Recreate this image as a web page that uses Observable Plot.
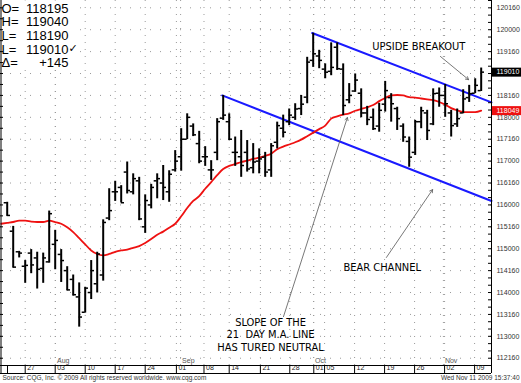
<!DOCTYPE html>
<html><head><meta charset="utf-8">
<script src="https://cdn.jsdelivr.net/npm/d3@7"></script>
<script src="https://cdn.jsdelivr.net/npm/@observablehq/plot@0.6"></script>
<style>
html,body{margin:0;padding:0;background:#fff;}
g[font-family*="Condensed"] text{font-stretch:condensed;}
</style></head><body><div id="chart"></div>
<script>
// Daily bars, trading-day index 0 = Jul 22 2009 ... 79 = Nov 11 2009 (prices in points)
const highs = [116.06,115.51,114.94,114.73,114.98,114.92,114.90,115.86,115.42,114.98,
114.59,114.40,114.22,114.12,114.73,114.92,115.66,116.37,116.54,116.44,
116.98,116.71,116.63,116.23,116.47,116.71,116.90,116.78,117.24,117.74,
118.08,117.85,117.68,117.33,117.01,117.97,118.50,118.08,117.55,117.70,
117.47,117.40,117.28,117.20,117.40,117.89,118.05,118.19,118.31,118.50,
119.37,119.92,119.53,119.22,119.70,119.70,119.22,118.77,118.99,118.65,
118.25,118.19,118.32,118.82,118.54,118.23,117.85,117.55,117.93,118.23,
118.16,118.65,118.67,118.75,118.16,118.19,118.63,118.73,118.88,119.125];
const lows = [115.74,114.56,114.79,114.21,114.43,114.08,114.21,114.67,114.52,114.23,
114.04,113.92,113.21,113.53,113.84,113.99,114.26,115.64,116.08,116.05,
116.25,116.23,115.64,115.35,115.91,116.14,116.10,116.06,116.75,116.77,
117.49,117.56,116.94,116.88,116.56,117.01,117.93,117.47,116.88,116.63,
116.75,116.71,116.71,116.63,116.63,117.28,117.53,117.81,117.93,118.04,
118.31,119.14,119.11,118.88,118.95,119.07,118.04,118.31,118.57,117.99,
117.81,117.70,117.66,118.12,117.89,117.70,117.43,116.86,117.13,117.74,
117.47,117.81,118.23,118.00,117.55,117.77,118.08,118.34,118.54,118.59];
const opens = [116.05,115.40,114.93,114.60,114.90,114.79,114.55,114.70,115.10,114.87,
114.50,114.30,113.90,113.55,114.00,114.20,114.40,115.70,116.30,116.40,
116.75,116.30,116.55,115.50,116.00,116.55,116.50,116.30,116.80,117.10,
117.50,117.80,117.40,117.10,116.80,117.20,117.98,117.90,117.20,117.10,
117.20,116.85,117.00,117.09,116.80,117.43,117.75,117.90,118.00,118.20,
118.46,119.30,119.40,119.10,119.05,119.60,119.10,118.40,118.60,118.55,
118.10,118.00,117.80,118.30,118.45,118.20,117.80,117.45,117.20,117.90,
118.10,117.85,118.55,118.50,118.10,117.85,118.10,118.45,118.55,118.61];
const closes = [115.76,114.58,114.90,114.62,114.63,114.53,114.79,115.80,115.19,114.73,
114.06,113.95,113.44,114.10,114.50,114.88,115.60,115.87,116.30,116.05,
116.33,116.60,115.68,116.10,116.40,116.60,116.40,116.70,117.00,117.50,
118.00,117.60,117.00,117.10,116.80,117.90,118.05,117.50,117.20,116.90,
116.82,116.98,117.05,116.75,117.35,117.81,117.66,118.05,118.19,118.30,
119.26,119.45,119.30,119.03,119.14,119.11,118.27,118.50,118.85,118.10,
117.95,117.74,118.16,118.61,118.31,117.97,117.55,117.09,117.90,118.15,
117.70,118.54,118.50,118.31,117.81,117.97,118.42,118.54,118.73,119.03125];
// 21-day moving average as drawn (first value = Jul 21, index -1; rest align with bars)
const ma21 = [115.57,
115.59,115.61,115.64,115.64,115.62,115.61,115.61,115.64,115.61,115.57,
115.49,115.38,115.24,115.10,114.96,114.88,114.85,114.88,114.93,114.96,
114.98,115.02,115.06,115.13,115.22,115.32,115.39,115.48,115.57,115.74,
115.93,116.09,116.20,116.37,116.52,116.68,116.82,116.89,116.93,116.98,
117.01,117.05,117.08,117.12,117.17,117.27,117.33,117.38,117.43,117.49,
117.57,117.65,117.73,117.81,117.97,118.02,118.06,118.09,118.15,118.19,
118.23,118.28,118.37,118.44,118.50,118.51,118.50,118.46,118.45,118.43,
118.41,118.39,118.35,118.29,118.21,118.16,118.12,118.12,118.12,118.1531];

const lastPrice = 119.03125;
const maLast = 118.1531;

// Header (last bar OHLC)
const headerLabels = ["O=","H=","L=","L=","\u0394="];
const headerValues = ["118195","119040","118190","119010","+145"];

// Price axis ticks (half points) and date axis
const priceTicks = [112.5,113,113.5,114,114.5,115,115.5,116,116.5,117,117.5,118,118.5,119,119.5,120,120.5];
const dateTickIdx = [3,8,13,18,23,28.2,32.8,37,42.2,47.1,51.1,52.9,57.9,62.9,67.9,72.9,77.9];
const dateTickLabels = ["27","03","10","17","24","01","08","14","21","28","01","05","12","19","26","02","09"];
const monthIdx = [8.05,28.9,51.05,72.7];
const monthLabels = ["Aug","Sep","Oct","Nov"];

// Channel lines
const upperIdx = [50.83, 80.72], upperPrice = [119.925, 118.34];
const lowerIdx = [35.83, 80.72], lowerPrice = [118.50, 116.09];

// Annotations
const noteTexts = ["UPSIDE BREAKOUT","BEAR CHANNEL","SLOPE OF THE\n21  DAY M.A. LINE\nHAS TURED NEUTRAL"];
const noteIdx = [68.6, 62.5, 43.9];
const notePrice = [119.62, 114.58, 113.05];
const arrowFromIdx = [72.2, 63.2, 46.05], arrowFromPrice = [119.39, 114.80, 113.45];
const arrowToIdx = [76.9, 70.9, 56.7], arrowToPrice = [118.86, 116.35, 117.995];

const sourceText = "Source: CQG, Inc. \u00a9 2009 All rights reserved worldwide. www.cqg.com";
const stampText = "Wed Nov 11 2009 15:37:40";

function fmt32(p) {
  const whole = Math.floor(p + 1e-9);
  const tenths = Math.round((p - whole) * 320);
  return whole + String(tenths).padStart(3, "0");
}

const bars = highs.map((h, i) => ({i, high: h, low: lows[i], open: opens[i], close: closes[i]}));
const maLine = ma21.map((v, k) => ({i: k - 1, ma: v}));
const upper = upperIdx.map((x, k) => ({x, p: upperPrice[k]}));
const lower = lowerIdx.map((x, k) => ({x, p: lowerPrice[k]}));
const notes = noteTexts.map((t, k) => ({t, x: noteIdx[k], p: notePrice[k]}));
const arrows = arrowFromIdx.map((x, k) => ({x1: x, y1: arrowFromPrice[k], x2: arrowToIdx[k], y2: arrowToPrice[k]}));

const xDomain = [-1.117, 80.72];
const yDomain = [112.334, 120.667];
const minorRight = d3.range(112.5, 120.67, 1/6);
const minorLeft = d3.range(112.5, 120.67, 0.25);
const grid = "#9a9a9a";

const chart = Plot.plot({
  width: 521, height: 383,
  marginTop: 0, marginLeft: 0, marginRight: 30, marginBottom: 18,
  x: {domain: xDomain, axis: null},
  y: {domain: yDomain, axis: null},
  style: {fontFamily: "'Liberation Sans', Arial, sans-serif", fontSize: "7px", background: "white", overflow: "visible"},
  marks: [
    Plot.ruleY(priceTicks, {stroke: grid, strokeDasharray: "1,9"}),
    Plot.ruleX(dateTickIdx.concat(monthIdx), {stroke: grid, strokeDasharray: "1,6"}),
    Plot.frame({fill: "white", stroke: "none", insetRight: 416, insetBottom: 297}),
    Plot.line(upper, {x: "x", y: "p", stroke: "#1a1aff", strokeWidth: 2}),
    Plot.line(lower, {x: "x", y: "p", stroke: "#1a1aff", strokeWidth: 2}),
    Plot.line(maLine, {x: "i", y: "ma", stroke: "#ee1111", strokeWidth: 1.8, curve: "monotone-x"}),
    Plot.ruleX(bars, {x: "i", y1: "low", y2: "high", stroke: "black", strokeWidth: 2}),
    Plot.ruleY(bars, {y: "open", x1: d => d.i - 0.5, x2: "i", stroke: "black", strokeWidth: 1.5}),
    Plot.ruleY(bars, {y: "close", x1: "i", x2: d => d.i + 0.55, stroke: "black", strokeWidth: 1.5}),
    Plot.arrow(arrows, {x1: "x1", y1: "y1", x2: "x2", y2: "y2", stroke: "#555", strokeWidth: 0.8, headLength: 6}),
    Plot.text(notes, {x: "x", y: "p", text: "t", fontFamily: "'DejaVu Sans Condensed', 'DejaVu Sans', sans-serif", fontSize: 11, lineHeight: 1.14, fill: "black"}),
    // header
    Plot.text([headerLabels.join("\n")], {frameAnchor: "top-left", dx: 1, dy: 2.5, lineAnchor: "top", textAnchor: "start", lineHeight: 1.05, fontSize: 13, fill: "black"}),
    Plot.text([headerValues.join("\n")], {frameAnchor: "top-left", dx: 68, dy: 2.5, lineAnchor: "top", textAnchor: "end", lineHeight: 1.05, fontSize: 13, fill: "black"}),
    Plot.text(["\u2713"], {frameAnchor: "top-left", dx: 68, dy: 44, lineAnchor: "top", textAnchor: "start", fontSize: 11, fill: "black", fontFamily: "'DejaVu Sans', sans-serif"}),
    // frame lines
    Plot.ruleX([xDomain[1]], {stroke: "black", insetBottom: -8}),
    Plot.ruleX([xDomain[0]], {stroke: "black", dx: 0.5, insetBottom: -8}),
    Plot.ruleY(minorRight, {stroke: "black", insetLeft: 488}),
    Plot.ruleY(minorLeft, {stroke: "black", insetRight: 488}),
    // price labels
    Plot.text(priceTicks.filter(t => Math.abs(t - lastPrice) > 0.1), {y: d => d, text: d => fmt32(d), frameAnchor: "right", textAnchor: "start", dx: 5, fill: "#333"}),
    Plot.ruleY([lastPrice], {stroke: "black", strokeWidth: 9, insetLeft: 492, insetRight: -30}),
    Plot.text([lastPrice], {y: d => d, text: d => fmt32(d), frameAnchor: "right", textAnchor: "start", dx: 5, fill: "white"}),
    Plot.ruleY([maLast], {stroke: "#ee1111", strokeWidth: 9, insetLeft: 492, insetRight: -30}),
    Plot.text([maLast], {y: d => d, text: d => fmt32(d), frameAnchor: "right", textAnchor: "start", dx: 5, fill: "white"}),
    // date axis box
    Plot.ruleY([yDomain[0]], {stroke: "black"}),
    Plot.ruleY([yDomain[0]], {stroke: "black", dy: 8}),
    Plot.ruleX(dateTickIdx, {y1: yDomain[0], y2: yDomain[0], insetBottom: -8, stroke: "black"}),
    Plot.ruleX([xDomain[0]], {y1: yDomain[0], y2: yDomain[0], insetBottom: -8, dx: 7, stroke: "black"}),
    Plot.text(dateTickIdx, {x: d => d, text: (d, i) => dateTickLabels[i], frameAnchor: "bottom", dy: 4.5, dx: 2, textAnchor: "start", fill: "#222"}),
    Plot.text(monthIdx, {x: d => d, text: (d, i) => monthLabels[i], frameAnchor: "bottom", dy: -3, dx: 1.5, textAnchor: "start", fill: "#555"}),
    // source line
    Plot.text([sourceText], {frameAnchor: "bottom-left", dy: 14, dx: 2, textAnchor: "start", fontSize: 6.5, fill: "#333"}),
    Plot.text([stampText], {frameAnchor: "bottom-right", dy: 14, dx: 28, textAnchor: "end", fontSize: 6.5, fill: "#333"})
  ]
});
document.getElementById("chart").appendChild(chart);
</script></body></html>
